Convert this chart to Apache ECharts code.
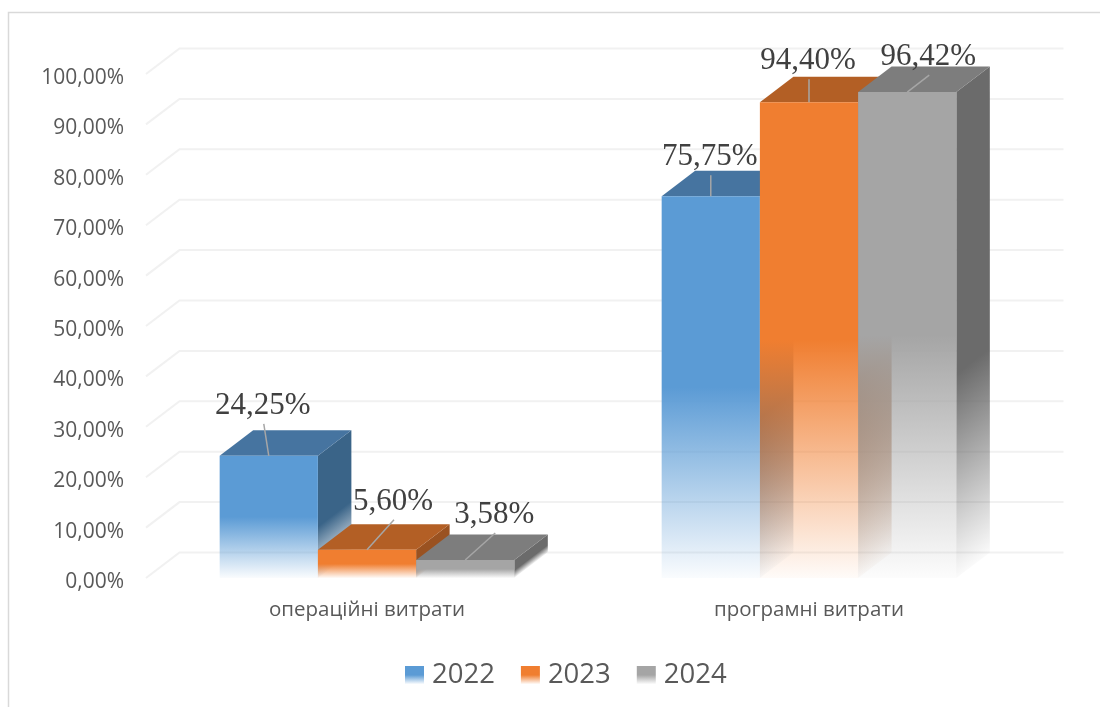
<!DOCTYPE html>
<html>
<head>
<meta charset="utf-8">
<style>html,body{margin:0;padding:0;background:#fff}#chart{width:1100px;height:707px}</style>
<script src="https://cdn.jsdelivr.net/npm/echarts@6/dist/echarts.min.js"></script>
</head>
<body>
<div id="chart"></div>
<script>
// Cost structure by year, percent of the total
const categories = ['операційні витрати', 'програмні витрати'];
const years = ['2022', '2023', '2024'];
const values2022 = [24.25, 75.75];
const values2023 = [5.60, 94.40];
const values2024 = [3.58, 96.42];
const yTicks = [0, 10, 20, 30, 40, 50, 60, 70, 80, 90, 100];

// Oblique projection of the box depth
const DEPTH_X = 33.5;
const DEPTH_Y = 25.5;

// Face shades per year: front, top, side (as r,g,b)
const palettes = [
  { front: '91,155,213', top: '70,116,160', side: '58,100,136' },
  { front: '240,126,48', top: '179,95,37', side: '154,82,33' },
  { front: '165,165,165', top: '125,125,125', side: '107,107,107' }
];

// Where each callout line ends, relative to the top of its bar
const leaders = [
  [[-5, -32], [0, -21]],
  [[27, -30], [0, -23]],
  [[30, -27], [22, -17]]
];

const fmtPct = v => v.toFixed(2).replace('.', ',') + '%';
const LinearGradient = echarts.graphic.LinearGradient;

const fadeStops = rgb => [
  { offset: 0, color: `rgba(${rgb},1)` },
  { offset: 0.5, color: `rgba(${rgb},1)` },
  { offset: 1, color: `rgba(${rgb},0.03)` }
];

// Back wall: horizontal rule plus the diagonal running to the front plane
function renderWall(params, api) {
  const y = api.coord([0, api.value(1)])[1];
  const cs = params.coordSys;
  const xFront = cs.x;
  const xBack = cs.x + DEPTH_X;
  const xEnd = cs.x + cs.width + DEPTH_X;
  return {
    type: 'polyline',
    silent: true,
    shape: { points: [[xFront, y], [xBack, y - DEPTH_Y], [xEnd, y - DEPTH_Y]] },
    style: { fill: null, stroke: '#f1f1f1', lineWidth: 2 }
  };
}

// One box: the side and top first, the front last, so a fading front lets
// the neighbouring side show through it
function renderBar(yearIndex) {
  return function (params, api) {
    const cat = api.value(0);
    const val = api.value(1);
    const band = api.size([1, 0])[0];
    const w = band / 4.5;
    const cx = api.coord([cat, 0])[0];
    const x0 = cx - 1.5 * w + yearIndex * w;
    const x1 = x0 + w;
    const yTop = api.coord([cat, val])[1];
    const yBase = api.coord([cat, 0])[1];
    const h = yBase - yTop;
    const pal = palettes[yearIndex];

    // Side fades along the normal of its slanted lower edge
    const len = Math.hypot(DEPTH_X, DEPTH_Y);
    const nx = DEPTH_Y / len;
    const ny = DEPTH_X / len;
    const reach = h * ny;
    const sideFill = new LinearGradient(
      x1 + nx * reach * 0.58, yTop + ny * reach * 0.58,
      x1 + nx * reach, yTop + ny * reach,
      [{ offset: 0, color: `rgba(${pal.side},1)` }, { offset: 1, color: `rgba(${pal.side},0.03)` }],
      true
    );
    const frontFill = new LinearGradient(0, yTop, 0, yBase, fadeStops(pal.front), true);

    const anchorX = (x0 + x1) / 2;
    const lead = leaders[yearIndex][cat];
    const endX = anchorX + lead[0];
    const endY = yTop + lead[1];

    return {
      type: 'group',
      children: [
        {
          type: 'polygon',
          shape: { points: [[x1, yTop], [x1 + DEPTH_X, yTop - DEPTH_Y], [x1 + DEPTH_X, yBase - DEPTH_Y], [x1, yBase]] },
          style: { fill: sideFill }
        },
        {
          type: 'polygon',
          shape: { points: [[x0, yTop], [x0 + DEPTH_X, yTop - DEPTH_Y], [x1 + DEPTH_X, yTop - DEPTH_Y], [x1, yTop]] },
          style: { fill: `rgb(${pal.top})` }
        },
        {
          type: 'polygon',
          shape: { points: [[x0, yTop], [x1, yTop], [x1, yBase], [x0, yBase]] },
          style: { fill: frontFill }
        },
        {
          type: 'line',
          z2: 50,
          shape: { x1: anchorX, y1: yTop, x2: endX, y2: endY },
          style: { stroke: '#a6a6a6', lineWidth: 1.5 }
        },
        {
          type: 'text',
          z2: 60,
          x: endX - 1,
          y: endY - 18,
          style: {
            text: fmtPct(val),
            fontFamily: '"Liberation Serif", serif',
            fontSize: 31,
            fill: '#404040',
            textAlign: 'center',
            textVerticalAlign: 'middle'
          }
        }
      ]
    };
  };
}

const barSeries = [values2022, values2023, values2024].map((vals, i) => ({
  name: years[i],
  type: 'custom',
  renderItem: renderBar(i),
  encode: { x: 0, y: 1 },
  itemStyle: { color: new LinearGradient(0, 0, 0, 1, fadeStops(palettes[i].front)) },
  data: vals.map((v, c) => [c, v])
}));

const chart = echarts.init(document.getElementById('chart'), null, { renderer: 'canvas' });
chart.setOption({
  animation: false,
  backgroundColor: '#ffffff',
  grid: { left: 146, right: 70, top: 74, bottom: 129 },
  graphic: [{
    type: 'polyline',
    silent: true,
    shape: { points: [[8.5, 707], [8.5, 12.5], [1100, 12.5]] },
    style: { fill: null, stroke: '#d9d9d9', lineWidth: 1.5 }
  }],
  legend: {
    data: years,
    left: 400,
    top: 656,
    icon: 'rect',
    itemWidth: 19,
    itemHeight: 18,
    itemGap: 26,
    textStyle: { fontFamily: '"Open Sans"', fontSize: 27.5, color: '#595959', padding: [0, 0, 0, 3] }
  },
  xAxis: {
    type: 'category',
    data: categories,
    axisLine: { show: false },
    axisTick: { show: false },
    axisLabel: { fontFamily: '"Open Sans"', fontSize: 20.5, color: '#595959', margin: 22 }
  },
  yAxis: {
    type: 'value',
    min: 0,
    max: 100,
    interval: 10,
    axisLine: { show: false },
    axisTick: { show: false },
    splitLine: { show: false },
    axisLabel: {
      fontFamily: '"Open Sans"', fontSize: 21, color: '#595959', margin: 22,
      verticalAlign: 'top',
      lineHeight: 8,
      formatter: fmtPct
    }
  },
  series: [{
    type: 'custom',
    silent: true,
    renderItem: renderWall,
    encode: { x: 0, y: 1 },
    data: yTicks.map(t => [0, t])
  }].concat(barSeries)
});
</script>
</body>
</html>
